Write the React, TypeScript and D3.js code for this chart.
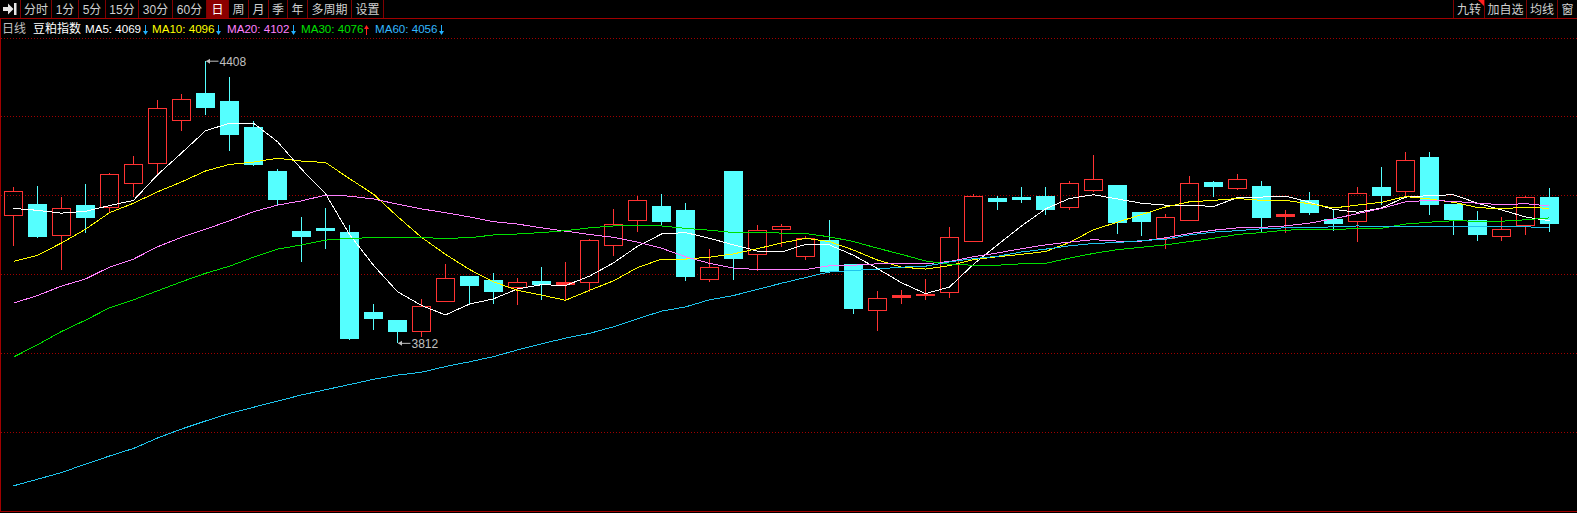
import React, { useEffect } from 'react';
import * as d3 from 'd3';

// ---- Data (豆粕指数, daily) ----
const opens = [4082,4106,4040,4104,4099,4150,4192,4282,4340,4324,4269,4176,4049,4055,4047,3878,3861,3837,3900,3954,3946,3930,3944,3936,3941,4018,4071,4102,4093,3947,4176,4000,4052,3995,4030,3979,3882,3908,3914,3919,4027,4119,4121,4123,4099,4135,4146,4089,4034,4072,4153,4139,4144,4081,4115,4075,4070,4142,4133,4205,4106,4072,4037,4061,4121];
const highs = [4142,4144,4121,4148,4171,4207,4326,4338,4408,4374,4281,4180,4079,4098,4062,3895,3861,3906,3979,3955,3960,3950,3973,3984,4032,4096,4123,4127,4108,4011,4176,4062,4064,4039,4072,3980,3922,3925,3948,4058,4127,4123,4142,4142,4155,4210,4147,4090,4085,4165,4155,4170,4155,4093,4131,4093,4142,4184,4216,4216,4107,4091,4079,4123,4140];
const lows = [4018,4035,3968,4046,4087,4122,4169,4261,4294,4219,4186,4104,3984,4012,3819,3840,3812,3825,3899,3894,3896,3893,3903,3903,3921,3996,4048,4062,3944,3942,3946,3965,4016,3988,3960,3875,3839,3896,3903,3908,4027,4093,4109,4084,4094,4131,4043,4039,4012,4072,4122,4136,4048,4046,4084,4050,4027,4104,4122,4084,4041,4029,4029,4041,4048];
const closes = [4133,4037,4097,4077,4169,4190,4308,4327,4309,4252,4188,4115,4037,4049,3821,3863,3837,3890,3949,3934,3921,3941,3935,3941,4030,4063,4114,4069,3953,3972,3991,4051,4059,4034,3963,3885,3907,3913,3916,4036,4122,4111,4115,4094,4150,4158,4067,4069,4078,4150,4143,4158,4077,4085,4088,4065,4129,4124,4198,4105,4073,4041,4053,4121,4065];

const ma5 = [4097,4093,4087,4091,4103,4114,4168,4214,4261,4277,4277,4238,4180,4128,4042,3977,3921,3892,3872,3895,3906,3927,3936,3934,3954,3982,4017,4043,4046,4034,4020,4007,4005,4021,4020,3998,3970,3940,3917,3931,3979,4020,4060,4096,4118,4126,4117,4108,4104,4104,4101,4120,4121,4123,4110,4095,4089,4098,4121,4124,4126,4108,4094,4079,4071];
const ma10 = [3985,3998,4024,4053,4088,4108,4132,4153,4176,4190,4195,4203,4197,4194,4160,4127,4080,4036,4000,3968,3942,3924,3914,3903,3924,3944,3972,3990,3990,3994,4001,4012,4024,4034,4027,4009,3988,3973,3969,3976,3989,3995,4000,4006,4025,4052,4068,4084,4100,4111,4114,4118,4114,4114,4107,4098,4104,4110,4122,4117,4110,4099,4096,4100,4097];
const ma20 = [3897,3913,3933,3948,3973,3990,4016,4036,4053,4071,4090,4104,4113,4125,4123,4117,4106,4096,4088,4079,4069,4064,4056,4049,4042,4036,4026,4013,3995,3981,3971,3968,3969,3968,3976,3977,3980,3981,3980,3985,3995,4003,4012,4020,4026,4031,4028,4028,4035,4044,4051,4056,4057,4060,4066,4075,4086,4097,4111,4114,4112,4108,4105,4107,4102];
const ma30 = [3783,3809,3837,3861,3887,3904,3923,3942,3960,3975,3994,4011,4020,4030,4034,4035,4035,4035,4034,4035,4041,4043,4046,4050,4056,4060,4061,4060,4055,4051,4046,4046,4045,4044,4037,4027,4013,4000,3986,3979,3977,3977,3980,3981,3992,4002,4010,4015,4020,4027,4034,4042,4046,4051,4053,4053,4054,4055,4064,4068,4071,4070,4070,4073,4077];
const ma60 = [3511,3525,3539,3557,3574,3590,3612,3631,3648,3664,3677,3690,3703,3714,3725,3736,3745,3751,3763,3773,3784,3798,3811,3823,3833,3847,3864,3880,3889,3904,3913,3926,3939,3951,3963,3966,3969,3973,3975,3984,3991,3996,4005,4011,4018,4023,4025,4029,4032,4041,4047,4050,4054,4056,4057,4058,4060,4058,4059,4059,4058,4058,4058,4058,4057];

const toolbarItems = ['分时', '1分', '5分', '15分', '30分', '60分', '日', '周', '月', '季', '年', '多周期', '设置'];
const selectedItem = '日';
const rightItems = ['九转', '加自选', '均线', '窗'];
const titleLabel = '日线';
const symbolName = '豆粕指数';
const legendNames = ['MA5', 'MA10', 'MA20', 'MA30', 'MA60'];
const legendValues = ['4069', '4096', '4102', '4076', '4056'];
const legendTrend = ['down', 'down', 'down', 'up', 'down'];
const maxLabel = '4408';
const minLabel = '3812';

// ---- styling ----
const W = 1577;
const H = 513;
const UP = '#ff3333';
const DOWN = '#55ffff';
const MA_COLORS = ['#ffffff', '#ffff00', '#ff80ff', '#00e000', '#1ec4ec'];
const LEGEND_COLORS = ['#ffffff', '#ffff00', '#ff80ff', '#00e000', '#33b8ff'];
const GRID = '#a00000';
const BORDER = '#a00000';
const FONT = "'Liberation Sans', 'Noto Sans CJK SC', sans-serif";

// toolbar cell boundaries (px)
const toolbarEdges = [20, 51, 78, 105, 138, 172, 206, 228, 248, 268, 287, 307, 351, 383];
const rightEdges = [1453, 1484, 1526, 1557, 1577];
const legendX = [85, 152, 227, 301, 375];
const arrowX = [145.5, 218.5, 293.5, 366.5, 441.5];

export default function App() {
  useEffect(() => {
    document.body.style.margin = '0';
    document.body.style.background = '#000';
  }, []);

  const n = closes.length;
  const idx = d3.range(n);
  const x = d3.scalePoint<number>().domain(idx).range([13.5, 13.5 + 24 * (n - 1)]);
  const y = d3.scaleLinear().domain([3460, 4457]).range([510, 38]);

  const plotTop = 38;
  const plotBottom = 511;
  const gridYs = d3.range(6).map((k) => Math.floor(plotTop + (k * (plotBottom - plotTop)) / 6) + 0.5);

  const maSeries = [ma5, ma10, ma20, ma30, ma60];
  const line = d3
    .line<number>()
    .x((_, i) => x(i)!)
    .y((d) => y(d));

  const hiIdx = highs.indexOf(d3.max(highs)!);
  const loIdx = lows.indexOf(d3.min(lows)!);

  return (
    <svg
      width={W}
      height={H}
      style={{ position: 'absolute', left: 0, top: 0, background: '#000', display: 'block' }}
      fontFamily={FONT}
    >
      <rect x={0} y={0} width={W} height={H} fill="#000" />

      {/* toolbar */}
      <g shapeRendering="crispEdges">
        {toolbarItems.map((t, i) =>
          t === selectedItem ? (
            <rect key={'sel' + i} x={toolbarEdges[i]} y={0} width={toolbarEdges[i + 1] - toolbarEdges[i]} height={18} fill="#8c0000" />
          ) : null
        )}
        {toolbarEdges.map((e, i) => (
          <line key={'te' + i} x1={e + 0.5} x2={e + 0.5} y1={0} y2={18} stroke="#800000" />
        ))}
        {rightEdges.slice(0, -1).map((e, i) => (
          <line key={'re' + i} x1={e + 0.5} x2={e + 0.5} y1={0} y2={18} stroke="#800000" />
        ))}
        <line x1={0} x2={W} y1={18.5} y2={18.5} stroke={BORDER} />
        <line x1={0.5} x2={0.5} y1={18} y2={512} stroke={BORDER} />
        <line x1={0} x2={W} y1={511.5} y2={511.5} stroke={BORDER} />
      </g>
      <path d="M3,7 h5 v-3.5 l5.5,5.5 l-5.5,5.5 v-3.5 h-5 z" fill="#e6e6e6" />
      <rect x={14} y={3} width={2.5} height={12} fill="#e6e6e6" />
      {toolbarItems.map((t, i) => (
        <text
          key={'tt' + i}
          x={(toolbarEdges[i] + toolbarEdges[i + 1]) / 2 + 0.5}
          y={14}
          textAnchor="middle"
          fontSize={12}
          fill={t === selectedItem ? '#ffffff' : '#d0d0d0'}
        >
          {t}
        </text>
      ))}
      {rightItems.map((t, i) => (
        <text
          key={'rt' + i}
          x={(rightEdges[i] + rightEdges[i + 1]) / 2 + 0.5}
          y={14}
          textAnchor="middle"
          fontSize={12}
          fill="#d0d0d0"
        >
          {t}
        </text>
      ))}
      <polygon points={`${rightEdges[1] - 6},0 ${rightEdges[1]},0 ${rightEdges[1]},6`} fill="#ff2020" />

      {/* info line */}
      <text x={2} y={32.5} fontSize={12} fill="#c0c0c0">{titleLabel}</text>
      <text x={33} y={32.5} fontSize={12} fill="#ffffff">{symbolName}</text>
      {legendNames.map((nm, i) => (
        <text key={'lg' + i} x={legendX[i]} y={32.5} fontSize={11.6} fill={LEGEND_COLORS[i]}>
          {`${nm}: ${legendValues[i]}`}
        </text>
      ))}
      {legendTrend.map((tr, i) => {
        const ax = arrowX[i];
        const col = tr === 'up' ? '#ff2020' : '#20b0ff';
        return tr === 'up' ? (
          <g key={'ar' + i} fill={col} stroke={col}>
            <line x1={ax} x2={ax} y1={28} y2={35} strokeWidth={1} shapeRendering="crispEdges" />
            <path d={`M${ax - 2.5},${29} L${ax + 2.5},${29} L${ax},${25} z`} stroke="none" />
          </g>
        ) : (
          <g key={'ar' + i} fill={col} stroke={col}>
            <line x1={ax} x2={ax} y1={25} y2={32} strokeWidth={1} shapeRendering="crispEdges" />
            <path d={`M${ax - 2.5},${31} L${ax + 2.5},${31} L${ax},${35} z`} stroke="none" />
          </g>
        );
      })}

      {/* grid */}
      <g shapeRendering="crispEdges">
        {gridYs.map((gy, k) => (
          <line key={'g' + k} x1={1} x2={W} y1={gy} y2={gy} stroke={GRID} strokeDasharray="1,2" />
        ))}
      </g>

      {/* candles */}
      <g shapeRendering="crispEdges">
        {idx.map((i) => {
          const cx = x(i)!;
          const up = closes[i] >= opens[i];
          const top = y(Math.max(opens[i], closes[i]));
          const bot = y(Math.min(opens[i], closes[i]));
          const hi = y(highs[i]);
          const lo = y(lows[i]);
          if (up) {
            return (
              <g key={'c' + i} stroke={UP}>
                {hi < top - 0.5 && <line x1={cx} x2={cx} y1={hi} y2={top} />}
                {lo > bot + 0.5 && <line x1={cx} x2={cx} y1={bot} y2={lo} />}
                <rect x={cx - 9} y={top} width={18} height={Math.max(bot - top, 1)} fill={bot - top < 2.5 ? UP : 'none'} />
              </g>
            );
          }
          return (
            <g key={'c' + i}>
              <line x1={cx} x2={cx} y1={hi} y2={lo} stroke={DOWN} />
              <rect x={cx - 9.5} y={top} width={19} height={Math.max(bot - top, 1.5)} fill={DOWN} />
            </g>
          );
        })}
      </g>

      {/* moving averages */}
      <g fill="none" strokeWidth={1} shapeRendering="crispEdges">
        {maSeries.map((s, k) => (
          <path key={'ma' + k} d={line(s)!} stroke={MA_COLORS[k]} />
        ))}
      </g>

      {/* extreme labels */}
      <g stroke="#c0c0c0" fill="#c0c0c0">
        <line x1={x(hiIdx)! + 1} x2={x(hiIdx)! + 13} y1={y(highs[hiIdx])} y2={y(highs[hiIdx])} />
        <path d={`M${x(hiIdx)! + 0.5},${y(highs[hiIdx])} l4,-2.5 v5 z`} stroke="none" />
        <line x1={x(loIdx)! + 1} x2={x(loIdx)! + 13} y1={y(lows[loIdx])} y2={y(lows[loIdx])} />
        <path d={`M${x(loIdx)! + 0.5},${y(lows[loIdx])} l4,-2.5 v5 z`} stroke="none" />
      </g>
      <text x={x(hiIdx)! + 14} y={y(highs[hiIdx]) + 4.5} fontSize={12} fill="#c0c0c0">{maxLabel}</text>
      <text x={x(loIdx)! + 14} y={y(lows[loIdx]) + 4.5} fontSize={12} fill="#c0c0c0">{minLabel}</text>
    </svg>
  );
}
